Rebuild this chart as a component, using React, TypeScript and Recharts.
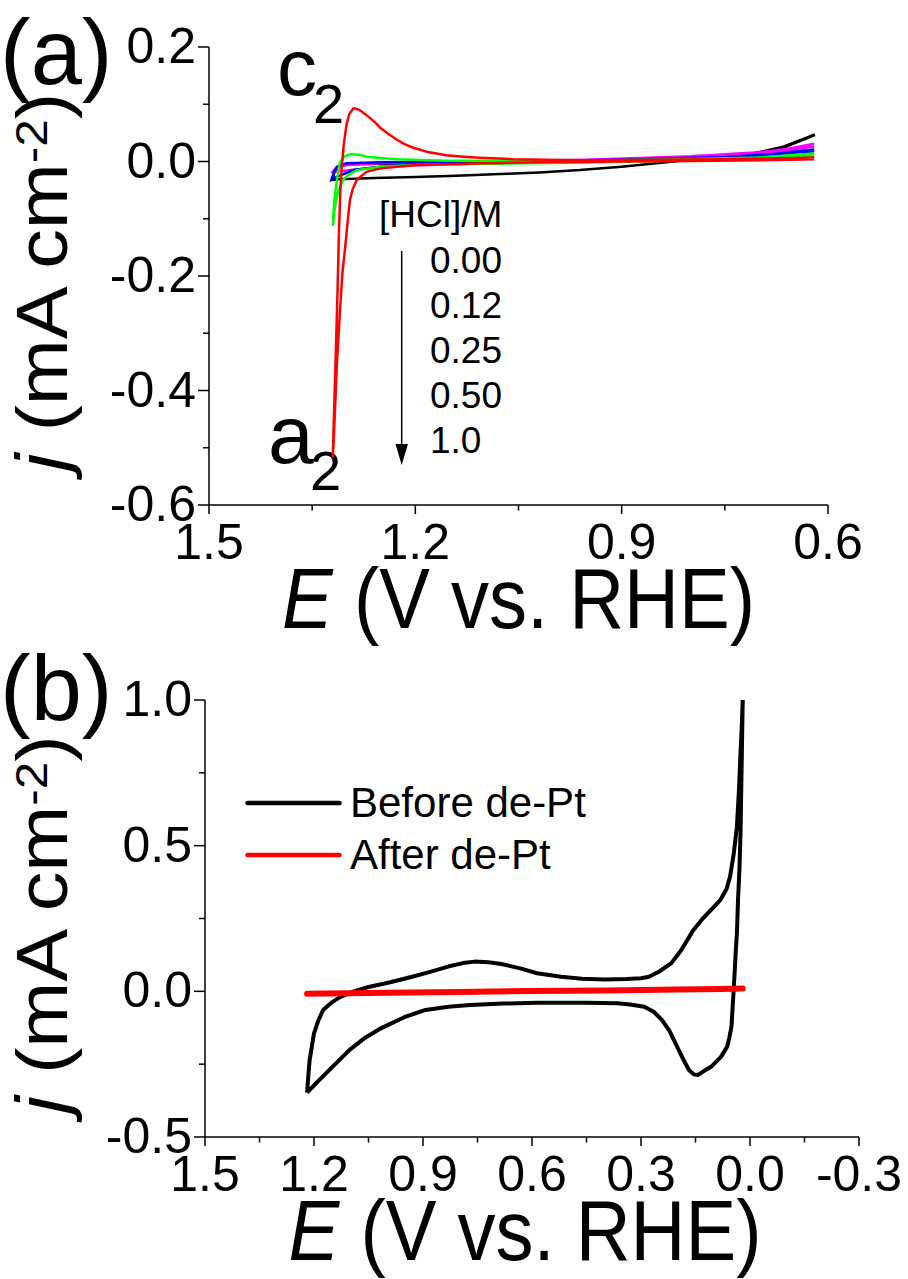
import { Customized, Legend, Line, LineChart, XAxis, YAxis } from "recharts";

type Pt = [number, number];

const FONT = "'Liberation Sans', Arial, sans-serif";

// (a) CVs at different [HCl], E in V vs. RHE, j in mA cm-2
const hclLevels = ["0.00", "0.12", "0.25", "0.50", "1.0"];
const hclColors = ["#000000", "#ff00ff", "#0000ff", "#00ff00", "#ff0000"];

const cvHcl000: Pt[] = [
  [0.619, 0.0475], [0.665, 0.026], [0.714, 0.0126], [0.76, 0.006], [0.806, 0.002], [0.85, -0.003],
  [0.9, -0.009], [0.961, -0.015], [1.02, -0.019], [1.077, -0.022], [1.14, -0.025], [1.2, -0.027],
  [1.26, -0.029], [1.31, -0.031], [1.32, -0.032], [1.318, -0.02], [1.312, -0.009], [1.3, -0.005],
  [1.25, -0.004], [1.15, -0.003], [1.05, -0.002], [0.95, 0.0], [0.85, 0.002], [0.78, 0.005],
  [0.714, 0.011], [0.665, 0.024], [0.619, 0.046]
];
const cvHcl012: Pt[] = [
  [0.62, 0.031], [0.66, 0.022], [0.7, 0.016], [0.8, 0.009], [0.95, 0.003], [1.1, 0.0], [1.25, -0.003],
  [1.3, -0.006], [1.316, -0.012], [1.32, -0.018], [1.31, -0.017], [1.27, -0.012], [1.2, -0.007],
  [1.1, -0.003], [0.95, 0.001], [0.8, 0.006], [0.7, 0.012], [0.62, 0.026]
];
const cvHcl025: Pt[] = [
  [0.62, 0.021], [0.68, 0.013], [0.75, 0.008], [0.9, 0.003], [1.1, 0.0], [1.25, -0.0015], [1.3, -0.003],
  [1.314, -0.009], [1.318, -0.018], [1.322, -0.032], [1.314, -0.027], [1.29, -0.015], [1.251, -0.009],
  [1.2, -0.005], [1.05, -0.002], [0.9, 0.001], [0.75, 0.006], [0.62, 0.018]
];
const cvHcl050: Pt[] = [
  [0.62, 0.01], [0.7, 0.005], [0.8, 0.002], [0.961, -0.002], [1.1, -0.004], [1.203, -0.006],
  [1.251, -0.009], [1.285, -0.015], [1.298, -0.024], [1.305, -0.032], [1.313, -0.055], [1.317, -0.08],
  [1.32, -0.113], [1.318, -0.07], [1.314, -0.032], [1.31, -0.003], [1.303, 0.009], [1.293, 0.013],
  [1.28, 0.0115], [1.271, 0.0084], [1.25, 0.006], [1.227, 0.0038], [1.155, 0.0014], [1.0, 0.001],
  [0.85, 0.003], [0.7, 0.007], [0.62, 0.014]
];
const cvHcl100: Pt[] = [
  [0.62, 0.004], [0.7, 0.002], [0.8, 0.001], [0.9, 0.0], [1.0, -0.001], [1.1, -0.003], [1.2, -0.006],
  [1.25, -0.012], [1.271, -0.018], [1.285, -0.032], [1.291, -0.048], [1.295, -0.067], [1.298, -0.1],
  [1.302, -0.15], [1.306, -0.195], [1.31, -0.27], [1.314, -0.352], [1.318, -0.469], [1.32, -0.517],
  [1.319, -0.469], [1.316, -0.35], [1.313, -0.22], [1.311, -0.12], [1.309, -0.05], [1.307, -0.009],
  [1.304, 0.03], [1.3, 0.065], [1.296, 0.083], [1.29, 0.093], [1.285, 0.092], [1.28, 0.089],
  [1.271, 0.081], [1.26, 0.07], [1.251, 0.059], [1.24, 0.049], [1.227, 0.038], [1.215, 0.03],
  [1.203, 0.024], [1.18, 0.016], [1.155, 0.011], [1.13, 0.0085], [1.106, 0.0066], [1.058, 0.004],
  [0.96, 0.002], [0.85, 0.003], [0.75, 0.004], [0.65, 0.006], [0.62, 0.007]
];
const hclCurves = [cvHcl000, cvHcl012, cvHcl025, cvHcl050, cvHcl100];

const aXTicks = [1.5, 1.35, 1.2, 1.05, 0.9, 0.75, 0.6];
const aXLabels = ["1.5", "", "1.2", "", "0.9", "", "0.6"];
const aYTicks = [0.2, 0.1, 0, -0.1, -0.2, -0.3, -0.4, -0.5, -0.6];
const aYLabels = ["0.2", "", "0.0", "", "-0.2", "", "-0.4", "", "-0.6"];

// (b) before / after de-Pt
const dePtNames = ["Before de-Pt", "After de-Pt"];
const beforeDePt: Pt[] = [
  [1.219, -0.348], [1.215, -0.28], [1.212, -0.236], [1.206, -0.19], [1.2, -0.144], [1.188, -0.1],
  [1.175, -0.064], [1.15, -0.037], [1.126, -0.018], [1.09, 0.0], [1.053, 0.014], [0.99, 0.031],
  [0.93, 0.05], [0.88, 0.067], [0.831, 0.085], [0.79, 0.097], [0.758, 0.102], [0.72, 0.1],
  [0.684, 0.094], [0.63, 0.078], [0.586, 0.062], [0.52, 0.05], [0.463, 0.043], [0.4, 0.041],
  [0.34, 0.042], [0.3, 0.045], [0.278, 0.05], [0.25, 0.068], [0.217, 0.096], [0.19, 0.14],
  [0.156, 0.21], [0.13, 0.25], [0.107, 0.28], [0.082, 0.313], [0.065, 0.35], [0.055, 0.393],
  [0.045, 0.47], [0.036, 0.565], [0.03, 0.7], [0.027, 0.794], [0.023, 0.9], [0.02, 1.0],
  [0.022, 0.85], [0.024, 0.7], [0.026, 0.55], [0.029, 0.42], [0.033, 0.313], [0.036, 0.2],
  [0.039, 0.142], [0.042, 0.07], [0.045, 0.004], [0.051, -0.121], [0.057, -0.16], [0.063, -0.19],
  [0.08, -0.225], [0.107, -0.259], [0.125, -0.272], [0.143, -0.287], [0.155, -0.285], [0.168, -0.27],
  [0.185, -0.23], [0.205, -0.179], [0.222, -0.135], [0.242, -0.099], [0.265, -0.07], [0.291, -0.053],
  [0.33, -0.045], [0.365, -0.041], [0.45, -0.039], [0.586, -0.039], [0.68, -0.042], [0.77, -0.047],
  [0.83, -0.053], [0.893, -0.064], [0.95, -0.088], [1.016, -0.127], [1.06, -0.16], [1.102, -0.201],
  [1.15, -0.26], [1.19, -0.31], [1.219, -0.348]
];
const afterDePt: Pt[] = [
  [1.219, -0.008], [1.0, -0.005], [0.8, -0.002], [0.6, 0.001], [0.4, 0.003], [0.2, 0.006],
  [0.08, 0.008], [0.02, 0.01]
];

const bXTicks = [1.5, 1.35, 1.2, 1.05, 0.9, 0.75, 0.6, 0.45, 0.3, 0.15, 0, -0.15, -0.3];
const bXLabels = ["1.5", "", "1.2", "", "0.9", "", "0.6", "", "0.3", "", "0.0", "", "-0.3"];
const bYTicks = [1, 0.75, 0.5, 0.25, 0, -0.25, -0.5];
const bYLabels = ["1.0", "", "0.5", "", "0.0", "", "-0.5"];

const toRows = (pts: Pt[]) => pts.map(([E, j]) => ({ E, j }));

const labelFor = (values: number[], labels: string[], v: number) => {
  const i = values.findIndex((t) => Math.abs(t - v) < 1e-9);
  return i >= 0 ? labels[i] : "";
};

const makeXTick = (values: number[], labels: string[]) => (props: any) => {
  const { x, y, payload } = props;
  const text = labelFor(values, labels, payload.value);
  return (
    <g>
      <line x1={x} x2={x} y1={y} y2={y + (text ? 9 : 5.5)} stroke="#000" strokeWidth={1.5} />
      {text ? (
        <text x={x} y={y + 54} textAnchor="middle" fontSize={50} fontFamily={FONT} fill="#000">
          {text}
        </text>
      ) : null}
    </g>
  );
};

const makeYTick = (values: number[], labels: string[]) => (props: any) => {
  const { x, y, payload } = props;
  const text = labelFor(values, labels, payload.value);
  return (
    <g>
      <line x1={x - (text ? 11 : 6)} x2={x} y1={y} y2={y} stroke="#000" strokeWidth={1.5} />
      {text ? (
        <text x={x - 13} y={y + 16} textAnchor="end" fontSize={50} fontFamily={FONT} fill="#000">
          {text}
        </text>
      ) : null}
    </g>
  );
};

const xTitle = (shift: number) => (props: any) => {
  const vb = props.viewBox;
  const cx = vb.x + vb.width / 2 + shift;
  return (
    <text
      transform={`translate(${cx} ${vb.y + 123}) scale(1 1.13)`}
      textAnchor="middle"
      fontSize={76}
      fontFamily={FONT}
      fill="#000"
    >
      <tspan fontStyle="italic">E</tspan> (V vs. RHE)
    </text>
  );
};

const yTitle = (props: any) => {
  const vb = props.viewBox;
  const cy = vb.y + vb.height / 2 + 6;
  return (
    <text
      transform={`translate(67 ${cy}) scale(1 1.1) rotate(-90)`}
      textAnchor="middle"
      fontSize={72}
      fontFamily={FONT}
      fill="#000"
    >
      <tspan fontStyle="italic">j</tspan> (mA cm
      <tspan dy={-20} fontSize={45}>-2</tspan>
      <tspan dy={20}>)</tspan>
    </text>
  );
};

const axisLine = { stroke: "#000", strokeWidth: 1.5 };

const PanelAAnnotations = () => (
  <g fontFamily={FONT} fill="#000">
    <text x={0} y={84} fontSize={92}>(a)</text>
    <text x={277} y={95} fontSize={80}>
      c<tspan x={313} y={123} fontSize={56}>2</tspan>
    </text>
    <text x={268} y={463} fontSize={82}>
      a<tspan x={310} y={490} fontSize={56}>2</tspan>
    </text>
    <text x={379} y={227} fontSize={37}>[HCl]/M</text>
    {hclLevels.map((lvl, i) => (
      <text key={lvl} x={430} y={273 + i * 45} fontSize={37}>
        {lvl}
      </text>
    ))}
    <line x1={401.7} x2={401.7} y1={251} y2={446} stroke="#000" strokeWidth={1.5} />
    <polygon points="395.5,444 408,444 401.7,465" fill="#000" />
  </g>
);

// panel (b) chart starts 600px down the page
const PanelBAnnotations = () => (
  <g fontFamily={FONT} fill="#000">
    <text x={0} y={120} fontSize={92}>(b)</text>
  </g>
);

const renderLegend = (props: any) => {
  const items = [...(props.payload || [])].sort(
    (a: any, b: any) => dePtNames.indexOf(a.value) - dePtNames.indexOf(b.value)
  );
  return (
    <div style={{ fontFamily: FONT }}>
      {items.map((entry: any) => (
        <div key={entry.value} style={{ display: "flex", alignItems: "center", height: 52 }}>
          <svg width={97} height={10} style={{ display: "block" }}>
            <line x1={2.5} x2={94.5} y1={5} y2={5} stroke={entry.color} strokeWidth={4.5} strokeLinecap="round" />
          </svg>
          <span style={{ marginLeft: 8, fontSize: 42, lineHeight: "52px", color: "#000" }}>{entry.value}</span>
        </div>
      ))}
    </div>
  );
};

export default function App() {
  return (
    <div style={{ position: "absolute", left: 0, top: 0, width: 908, height: 1279, background: "#fff" }}>
      <div style={{ position: "absolute", left: 0, top: 0 }}>
        <LineChart width={908} height={660} margin={{ top: 47, right: 80, bottom: 0, left: 0 }}>
          <XAxis
            type="number"
            dataKey="E"
            domain={[0.6, 1.5]}
            reversed
            allowDataOverflow
            ticks={aXTicks}
            interval={0}
            tickSize={0}
            tickMargin={0}
            tickLine={false}
            axisLine={axisLine}
            height={155}
            tick={makeXTick(aXTicks, aXLabels)}
            label={{ content: xTitle(0) }}
          />
          <YAxis
            type="number"
            dataKey="j"
            domain={[-0.6, 0.2]}
            allowDataOverflow
            ticks={aYTicks}
            interval={0}
            tickSize={0}
            tickMargin={0}
            tickLine={false}
            axisLine={axisLine}
            width={209}
            tick={makeYTick(aYTicks, aYLabels)}
            label={{ content: yTitle }}
          />
          {hclCurves.map((curve, i) => (
            <Line
              key={hclLevels[i]}
              data={toRows(curve)}
              dataKey="j"
              name={hclLevels[i]}
              type="linear"
              stroke={hclColors[i]}
              strokeWidth={2.5}
              dot={false}
              activeDot={false}
              isAnimationActive={false}
            />
          ))}
          <Customized component={PanelAAnnotations} />
        </LineChart>
      </div>
      <div style={{ position: "absolute", left: 0, top: 600 }}>
        <LineChart width={908} height={679} margin={{ top: 100, right: 49, bottom: 0, left: 0 }}>
          <XAxis
            type="number"
            dataKey="E"
            domain={[-0.3, 1.5]}
            reversed
            allowDataOverflow
            ticks={bXTicks}
            interval={0}
            tickSize={0}
            tickMargin={0}
            tickLine={false}
            axisLine={axisLine}
            height={142}
            tick={makeXTick(bXTicks, bXLabels)}
            label={{ content: xTitle(-7) }}
          />
          <YAxis
            type="number"
            dataKey="j"
            domain={[-0.5, 1.0]}
            allowDataOverflow
            ticks={bYTicks}
            interval={0}
            tickSize={0}
            tickMargin={0}
            tickLine={false}
            axisLine={axisLine}
            width={205}
            tick={makeYTick(bYTicks, bYLabels)}
            label={{ content: yTitle }}
          />
          <Legend
            layout="vertical"
            align="center"
            verticalAlign="middle"
            wrapperStyle={{ left: 245, top: 177, width: 420, height: 104 }}
            content={renderLegend}
          />
          <Line
            data={toRows(beforeDePt)}
            dataKey="j"
            name={dePtNames[0]}
            type="linear"
            stroke="#000000"
            strokeWidth={4}
            strokeLinejoin="round"
            dot={false}
            activeDot={false}
            isAnimationActive={false}
          />
          <Line
            data={toRows(afterDePt)}
            dataKey="j"
            name={dePtNames[1]}
            type="linear"
            stroke="#ff0000"
            strokeWidth={6}
            strokeLinecap="round"
            dot={false}
            activeDot={false}
            isAnimationActive={false}
          />
          <Customized component={PanelBAnnotations} />
        </LineChart>
      </div>
    </div>
  );
}
